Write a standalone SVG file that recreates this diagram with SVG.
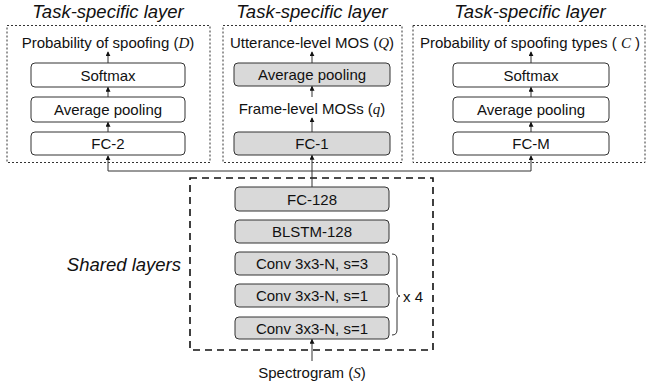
<svg xmlns="http://www.w3.org/2000/svg" width="647" height="383" viewBox="0 0 647 383">
<style>
.t{font-family:"Liberation Sans",Arial,sans-serif;font-size:15px;fill:#111;text-anchor:middle}
.ti{font-family:"Liberation Sans",Arial,sans-serif;font-size:18.5px;font-style:italic;fill:#111;text-anchor:middle}
.v{font-family:"Liberation Serif","Times New Roman",serif;font-style:italic}
.box{fill:#fff;stroke:#333;stroke-width:1}
.gbox{fill:#d9d9d9;stroke:#333;stroke-width:1}
.panel{fill:none;stroke:#333;stroke-width:1;stroke-dasharray:2 2}
.shared{fill:none;stroke:#111;stroke-width:1.6;stroke-dasharray:7 5}
.c{fill:none;stroke:#333;stroke-width:1}
</style>
<defs>
<marker id="ah" viewBox="0 0 6 6" refX="5" refY="3" markerWidth="5" markerHeight="5" orient="auto" markerUnits="userSpaceOnUse">
<path d="M0,0 L6,3 L0,6 z" fill="#111"/>
</marker>
</defs>

<g id="panel-spoof">
<text class="ti" x="108" y="18">Task-specific layer</text>
<rect class="panel" x="7" y="25.5" width="203" height="137"/>
<text class="t" x="108" y="48">Probability of spoofing (<tspan class="v">D</tspan>)</text>
<rect class="box" x="31" y="63" width="154" height="24" rx="4"/>
<text class="t" x="108" y="80.5">Softmax</text>
<rect class="box" x="31" y="97" width="154" height="25" rx="4"/>
<text class="t" x="108" y="115">Average pooling</text>
<rect class="box" x="31" y="132" width="154" height="23" rx="4"/>
<text class="t" x="108" y="149">FC-2</text>
</g>

<g id="panel-mos">
<text class="ti" x="312" y="18">Task-specific layer</text>
<rect class="panel" x="223" y="25.5" width="179" height="137"/>
<text class="t" x="312" y="48">Utterance-level MOS (<tspan class="v">Q</tspan>)</text>
<rect class="gbox" x="234" y="63" width="156" height="23" rx="4"/>
<text class="t" x="312" y="80">Average pooling</text>
<text class="t" x="312" y="113.5">Frame-level MOSs (<tspan class="v">q</tspan>)</text>
<rect class="gbox" x="234" y="132" width="156" height="23" rx="4"/>
<text class="t" x="312" y="149">FC-1</text>
</g>

<g id="panel-types">
<text class="ti" x="530" y="18">Task-specific layer</text>
<rect class="panel" x="413" y="25.5" width="232" height="137"/>
<text class="t" x="530" y="48">Probability of spoofing types ( <tspan class="v">C</tspan> )</text>
<rect class="box" x="453" y="63" width="156" height="24" rx="4"/>
<text class="t" x="531" y="80.5">Softmax</text>
<rect class="box" x="453" y="97" width="156" height="25" rx="4"/>
<text class="t" x="531" y="115">Average pooling</text>
<rect class="box" x="453" y="132" width="156" height="23" rx="4"/>
<text class="t" x="531" y="149">FC-M</text>
</g>

<g id="shared">
<text class="ti" x="181" y="271" style="text-anchor:end">Shared layers</text>
<rect class="shared" x="190" y="178" width="243" height="172"/>
<rect class="gbox" x="235" y="187" width="154" height="24" rx="4"/>
<text class="t" x="312" y="204.5">FC-128</text>
<rect class="gbox" x="235" y="220" width="154" height="23" rx="4"/>
<text class="t" x="312" y="237">BLSTM-128</text>
<rect class="gbox" x="235" y="252" width="154" height="23" rx="4"/>
<text class="t" x="312" y="269">Conv 3x3-N, s=3</text>
<rect class="gbox" x="235" y="284" width="154" height="23" rx="4"/>
<text class="t" x="312" y="301">Conv 3x3-N, s=1</text>
<rect class="gbox" x="235" y="317" width="154" height="22" rx="4"/>
<text class="t" x="312" y="333.5">Conv 3x3-N, s=1</text>
<path class="c" d="M392,254 Q397,254 397,259 L397,291 Q397,296 400,296 Q397,296 397,301 L397,330 Q397,335 392,335"/>
<text class="t" x="403" y="301.5" style="text-anchor:start">x 4</text>
</g>

<g id="input">
<text class="t" x="312" y="378">Spectrogram (<tspan class="v">S</tspan>)</text>
</g>

<g id="connectors">
<line class="c" x1="108" y1="63" x2="108" y2="52" marker-end="url(#ah)"/>
<line class="c" x1="108" y1="97" x2="108" y2="87.5" marker-end="url(#ah)"/>
<line class="c" x1="108" y1="132" x2="108" y2="122.5" marker-end="url(#ah)"/>
<line class="c" x1="312" y1="63" x2="312" y2="52" marker-end="url(#ah)"/>
<line class="c" x1="312" y1="97" x2="312" y2="86.5" marker-end="url(#ah)"/>
<line class="c" x1="312" y1="132" x2="312" y2="118" marker-end="url(#ah)"/>
<line class="c" x1="531" y1="63" x2="531" y2="52" marker-end="url(#ah)"/>
<line class="c" x1="531" y1="97" x2="531" y2="87.5" marker-end="url(#ah)"/>
<line class="c" x1="531" y1="132" x2="531" y2="122.5" marker-end="url(#ah)"/>
<line class="c" x1="312" y1="187" x2="312" y2="155.5" marker-end="url(#ah)"/>
<polyline class="c" points="108,171 108,156" marker-end="url(#ah)"/>
<polyline class="c" points="531,171 531,156" marker-end="url(#ah)"/>
<line class="c" x1="108" y1="171" x2="531" y2="171"/>
<line class="c" x1="312" y1="361" x2="312" y2="339.5" marker-end="url(#ah)"/>
</g>
</svg>
